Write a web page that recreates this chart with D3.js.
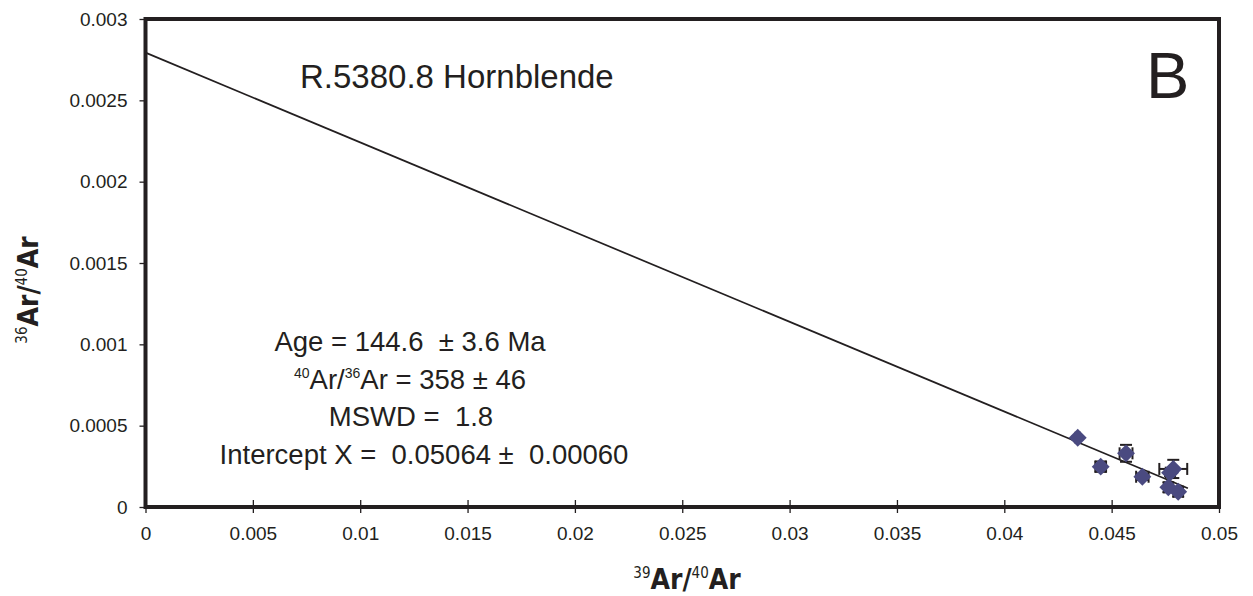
<!DOCTYPE html>
<html lang="en">
<head>
    <meta charset="UTF-8">
    <title>Isochron</title>
    <style>
        body { margin: 0; background: #fff; }
        text { font-family: "Liberation Sans", Arial, sans-serif; fill: #231f20; white-space: pre; }
        .ttl { font-family: "Liberation Sans Narrow", "DejaVu Sans Condensed", sans-serif; font-weight: bold; }
    </style>
</head>
<body>
<script src="https://d3js.org/d3.v7.min.js"></script>
<script>
    // data
    let xVal = [0.04342, 0.04449, 0.04567, 0.04643, 0.04787, 0.04772, 0.04764, 0.04810];
    let yVal = [0.000426, 0.000248, 0.000330, 0.000186, 0.000234, 0.000211, 0.000121, 0.000094];
    let xErr = [0.00010, 0.00025, 0.00030, 0.00029, 0.00065, 0.00020, 0.00020, 0.00022];
    let yErr = [0.000010, 0.000032, 0.000052, 0.000020, 0.000056, 0.000020, 0.000030, 0.000030];
    let xTicks = [0, 0.005, 0.01, 0.015, 0.02, 0.025, 0.03, 0.035, 0.04, 0.045, 0.05];
    let yTicks = [0, 0.0005, 0.001, 0.0015, 0.002, 0.0025, 0.003];
    let yIntercept = 1 / 358;
    let xIntercept = 0.05064;
    let lineEnd = 0.04855;
    let notes = ["Age = 144.6  \u00b1 3.6 Ma", "", "MSWD =  1.8", "Intercept X =  0.05064 \u00b1  0.00060"];

    let w = 1253, h = 596;
    let svg = d3.select("body").append("svg").attr("width", w).attr("height", h);

    let x = d3.scaleLinear().domain([0, 0.05]).range([145.5, 1219]);
    let y = d3.scaleLinear().domain([0, 0.003]).range([507, 19]);
    let ink = "#231f20";

    // axes
    let xAxis = svg.append("g").attr("transform", "translate(0,507)")
        .call(d3.axisBottom(x).tickValues(xTicks).tickFormat(d3.format("")).tickSize(6).tickPadding(14));
    xAxis.select(".domain").remove();
    xAxis.selectAll("line").attr("y1", -7).attr("stroke", ink).attr("stroke-width", 1.3);
    xAxis.selectAll("text").style("font-size", "19px").attr("fill", ink);

    let yAxis = svg.append("g").attr("transform", "translate(145.5,0)")
        .call(d3.axisLeft(y).tickValues(yTicks).tickFormat(d3.format("")).tickSize(6).tickPadding(12));
    yAxis.select(".domain").remove();
    yAxis.selectAll("line").attr("stroke", ink).attr("stroke-width", 1.3);
    yAxis.selectAll("text").style("font-size", "19px").attr("fill", ink);

    // frame
    svg.append("rect")
        .attr("x", x(0)).attr("y", y(0.003))
        .attr("width", x(0.05) - x(0)).attr("height", y(0) - y(0.003))
        .attr("fill", "none").attr("stroke", ink).attr("stroke-width", 4);

    // regression line
    let fit = v => yIntercept * (1 - v / xIntercept);
    svg.append("line")
        .attr("x1", x(0)).attr("y1", y(fit(0)))
        .attr("x2", x(lineEnd)).attr("y2", y(fit(lineEnd)))
        .attr("stroke", ink).attr("stroke-width", 1.7);

    // error bars
    let pts = xVal.map((v, i) => ({x: v, y: yVal[i], ex: xErr[i], ey: yErr[i]}));
    let eb = svg.append("g").attr("stroke", ink).attr("stroke-width", 2);
    pts.forEach(function (d) {
        eb.append("line").attr("x1", x(d.x - d.ex)).attr("x2", x(d.x + d.ex)).attr("y1", y(d.y)).attr("y2", y(d.y));
        eb.append("line").attr("x1", x(d.x - d.ex)).attr("x2", x(d.x - d.ex)).attr("y1", y(d.y) - 6).attr("y2", y(d.y) + 6);
        eb.append("line").attr("x1", x(d.x + d.ex)).attr("x2", x(d.x + d.ex)).attr("y1", y(d.y) - 6).attr("y2", y(d.y) + 6);
        eb.append("line").attr("x1", x(d.x)).attr("x2", x(d.x)).attr("y1", y(d.y - d.ey)).attr("y2", y(d.y + d.ey));
        eb.append("line").attr("x1", x(d.x) - 6).attr("x2", x(d.x) + 6).attr("y1", y(d.y - d.ey)).attr("y2", y(d.y - d.ey));
        eb.append("line").attr("x1", x(d.x) - 6).attr("x2", x(d.x) + 6).attr("y1", y(d.y + d.ey)).attr("y2", y(d.y + d.ey));
    });

    // markers
    svg.selectAll("path.pt").data(pts).enter().append("path")
        .attr("class", "pt")
        .attr("d", d3.symbol().type(d3.symbolSquare).size(160))
        .attr("transform", d => "translate(" + x(d.x) + "," + y(d.y) + ") rotate(45)")
        .attr("fill", "#4a4a80");

    // labels
    svg.append("text").attr("x", 300).attr("y", 88).style("font-size", "33px").text("R.5380.8 Hornblende");
    svg.append("text").attr("x", 1146).attr("y", 98).style("font-size", "65px").text("B");

    let nx = [410, 410, 411, 424];
    let ny = [351, 389, 426, 464];
    notes.forEach(function (t, i) {
        if (t === "") return;
        svg.append("text").attr("x", nx[i]).attr("y", ny[i]).attr("text-anchor", "middle")
            .style("font-size", "27.5px").text(t);
    });
    let iso = svg.append("text").attr("x", nx[1]).attr("y", ny[1]).attr("text-anchor", "middle").style("font-size", "27.5px");
    iso.append("tspan").attr("dy", -11).style("font-size", "14px").text("40");
    iso.append("tspan").attr("dy", 11).text("Ar/");
    iso.append("tspan").attr("dy", -11).style("font-size", "14px").text("36");
    iso.append("tspan").attr("dy", 11).text("Ar = 358 \u00b1 46");

    // axis titles
    let xt = svg.append("text").attr("class", "ttl").attr("x", 687).attr("y", 589)
        .attr("text-anchor", "middle").style("font-size", "28px");
    xt.append("tspan").attr("dy", -11).style("font-size", "15px").style("font-weight", "normal").text("39");
    xt.append("tspan").attr("dy", 11).text("Ar/");
    xt.append("tspan").attr("dy", -11).style("font-size", "15px").style("font-weight", "normal").text("40");
    xt.append("tspan").attr("dy", 11).text("Ar");

    let yt = svg.append("text").attr("class", "ttl")
        .attr("transform", "translate(38,290) rotate(-90)")
        .attr("text-anchor", "middle").style("font-size", "28px");
    yt.append("tspan").attr("dy", -11).style("font-size", "15px").style("font-weight", "normal").text("36");
    yt.append("tspan").attr("dy", 11).text("Ar/");
    yt.append("tspan").attr("dy", -11).style("font-size", "15px").style("font-weight", "normal").text("40");
    yt.append("tspan").attr("dy", 11).text("Ar");
</script>
</body>
</html>
